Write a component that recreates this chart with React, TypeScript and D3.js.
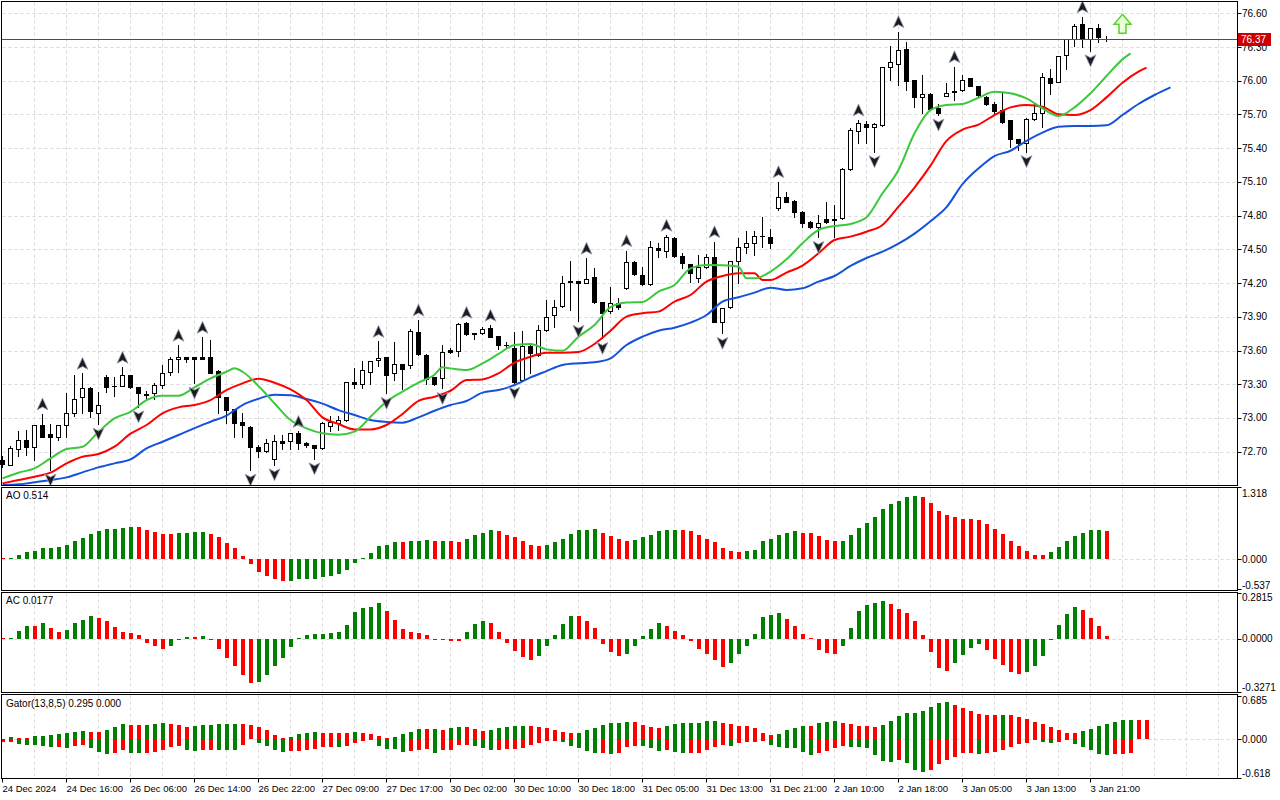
import { useEffect, useRef } from 'react'
import * as d3 from 'd3'

// H1 bars from 24 Dec 2024 08:00 to 3 Jan 23:00
const opens = [
  72.63, 72.584, 72.726, 72.803, 72.744, 72.934, 72.857, 72.833, 72.934, 73.047,
  73.183, 73.27, 73.047, 73.36, 73.283, 73.284, 73.379, 73.272, 73.207, 73.218,
  73.29, 73.408, 73.52, 73.539, 73.539, 73.545, 73.545, 73.42, 73.183, 73.076,
  72.964, 72.922, 72.744, 72.708, 72.637, 72.791, 72.791, 72.869, 72.78, 72.756,
  72.732, 72.93, 72.958, 72.981, 73.317, 73.299, 73.406, 73.512, 73.539, 73.397,
  73.477, 73.468, 73.764, 73.56, 73.361, 73.352, 73.601, 73.593, 73.842, 73.753,
  73.759, 73.797, 73.726, 73.646, 73.625, 73.337, 73.637, 73.557, 73.779, 73.913,
  73.993, 74.205, 74.215, 74.203, 74.251, 74.028, 73.948, 74.02, 74.153, 74.39,
  74.269, 74.189, 74.509, 74.482, 74.604, 74.441, 74.37, 74.248, 74.346, 74.435,
  73.857, 73.99, 74.399, 74.524, 74.554, 74.616, 74.613, 74.865, 74.969, 74.933,
  74.835, 74.746, 74.702, 74.767, 74.773, 74.776, 75.212, 75.556, 75.615, 75.592,
  75.606, 76.125, 76.149, 76.279, 76.006, 75.852, 75.879, 75.754, 75.867, 75.912,
  75.917, 76.021, 75.953, 75.858, 75.79, 75.739, 75.65, 75.478, 75.449, 75.656,
  75.71, 76.021, 75.991, 76.229, 76.368, 76.504, 76.368, 76.466, 76.37,
]
const highs = [
  72.66, 72.75, 72.883, 72.889, 72.94, 73.035, 72.946, 72.94, 73.22, 73.385,
  73.396, 73.275, 73.23, 73.379, 73.361, 73.45, 73.38, 73.275, 73.24, 73.31,
  73.468, 73.539, 73.646, 73.545, 73.545, 73.717, 73.693, 73.425, 73.185, 73.08,
  73.04, 72.925, 72.76, 72.81, 72.851, 72.851, 72.869, 72.88, 72.79, 72.76,
  72.96, 73.02, 73.017, 73.32, 73.441, 73.503, 73.503, 73.681, 73.54, 73.672,
  73.48, 73.788, 73.871, 73.566, 73.362, 73.646, 73.62, 73.842, 73.85, 73.755,
  73.806, 73.824, 73.727, 73.68, 73.762, 73.77, 73.646, 73.824, 74.046, 74.046,
  74.26, 74.4, 74.22, 74.42, 74.331, 74.03, 74.162, 74.064, 74.488, 74.392,
  74.346, 74.577, 74.554, 74.625, 74.613, 74.47, 74.372, 74.453, 74.459, 74.568,
  73.98, 74.4, 74.598, 74.666, 74.666, 74.791, 74.678, 75.102, 75.013, 74.935,
  74.84, 74.755, 74.803, 74.924, 74.895, 75.22, 75.577, 75.651, 75.645, 75.62,
  76.125, 76.309, 76.436, 76.347, 76.01, 76.051, 75.888, 75.793, 75.976, 76.125,
  76.051, 76.025, 75.955, 75.86, 75.813, 75.888, 75.652, 75.48, 75.665, 75.798,
  76.066, 76.101, 76.22, 76.37, 76.504, 76.57, 76.466, 76.504, 76.398,
]
const lows = [
  72.56, 72.578, 72.661, 72.667, 72.625, 72.83, 72.536, 72.8, 72.833, 73.017,
  73.04, 73.01, 72.946, 73.233, 73.195, 73.28, 73.27, 73.1, 73.17, 73.17,
  73.27, 73.385, 73.408, 73.5, 73.31, 73.52, 73.4, 73.04, 72.952, 72.833,
  72.833, 72.536, 72.655, 72.7, 72.584, 72.72, 72.726, 72.726, 72.744, 72.637,
  72.726, 72.88, 72.89, 72.975, 73.269, 73.263, 73.299, 73.465, 73.219, 73.337,
  73.254, 73.441, 73.557, 73.299, 73.29, 73.263, 73.58, 73.548, 73.735, 73.699,
  73.75, 73.717, 73.61, 73.62, 73.31, 73.33, 73.397, 73.548, 73.77, 73.806,
  73.99, 73.96, 73.86, 74.197, 74.02, 73.708, 73.93, 73.97, 74.15, 74.27,
  74.18, 74.18, 74.435, 74.435, 74.43, 74.331, 74.213, 74.213, 74.331, 73.85,
  73.753, 73.98, 74.198, 74.465, 74.45, 74.524, 74.509, 74.85, 74.92, 74.791,
  74.702, 74.687, 74.607, 74.73, 74.613, 74.77, 75.21, 75.449, 75.449, 75.369,
  75.6, 76.006, 75.962, 75.917, 75.769, 75.716, 75.74, 75.695, 75.86, 75.828,
  75.91, 75.95, 75.858, 75.784, 75.71, 75.627, 75.413, 75.383, 75.37, 75.65,
  75.591, 75.882, 75.99, 76.101, 76.309, 76.303, 76.267, 76.347, 76.356,
]
const closes = [
  72.59, 72.732, 72.803, 72.744, 72.934, 72.833, 72.833, 72.934, 73.041, 73.165,
  73.27, 73.058, 73.118, 73.278, 73.28, 73.379, 73.272, 73.218, 73.21, 73.29,
  73.396, 73.52, 73.539, 73.52, 73.527, 73.527, 73.402, 73.19, 73.07, 72.952,
  72.934, 72.744, 72.708, 72.78, 72.791, 72.774, 72.865, 72.78, 72.756, 72.732,
  72.958, 72.96, 72.981, 73.317, 73.299, 73.423, 73.503, 73.533, 73.379, 73.477,
  73.432, 73.77, 73.566, 73.343, 73.299, 73.584, 73.584, 73.833, 73.744, 73.744,
  73.788, 73.723, 73.646, 73.648, 73.317, 73.637, 73.575, 73.779, 73.895, 73.99,
  74.198, 74.215, 74.198, 74.239, 74.028, 73.936, 74.02, 73.984, 74.39, 74.278,
  74.189, 74.518, 74.491, 74.613, 74.441, 74.376, 74.293, 74.346, 74.435, 73.857,
  73.975, 74.399, 74.524, 74.554, 74.619, 74.618, 74.56, 74.969, 74.925, 74.829,
  74.737, 74.702, 74.737, 74.746, 74.761, 75.215, 75.562, 75.621, 75.586, 75.615,
  76.12, 76.163, 76.273, 76.0, 75.852, 75.879, 75.748, 75.71, 75.894, 75.897,
  76.006, 75.953, 75.873, 75.793, 75.733, 75.635, 75.478, 75.449, 75.656, 75.716,
  76.03, 75.982, 76.22, 76.368, 76.487, 76.368, 76.466, 76.386, 76.37,
]

const fractalUp = [5, 10, 15, 22, 25, 37, 47, 52, 58, 61, 73, 78, 83, 89, 97, 107, 112, 119, 135]
const fractalDown = [6, 12, 17, 24, 31, 34, 39, 48, 55, 64, 72, 75, 90, 102, 109, 117, 128, 136]

// Alligator lines as displayed (forward shift included): [bar, price]
const jaw: [number, number][] = [
  [0, 72.403], [2, 72.409], [4, 72.427], [6, 72.447], [8, 72.471], [10, 72.516], [12, 72.56], [14, 72.596],
  [16, 72.631], [18, 72.729], [20, 72.788], [22, 72.848], [24, 72.91], [26, 72.966], [28, 73.02], [30, 73.115],
  [32, 73.171], [34, 73.207], [36, 73.201], [38, 73.168], [40, 73.127], [42, 73.07], [44, 73.026], [46, 72.981],
  [48, 72.964], [50, 72.958], [52, 73.005], [54, 73.064], [56, 73.115], [58, 73.151], [60, 73.225], [62, 73.248],
  [64, 73.293], [66, 73.361], [68, 73.417], [70, 73.471], [72, 73.486], [74, 73.495], [76, 73.53], [78, 73.649],
  [80, 73.723], [82, 73.776], [84, 73.803], [86, 73.848], [88, 73.916], [90, 74.035], [92, 74.073], [94, 74.115],
  [96, 74.159], [98, 74.138], [100, 74.153], [102, 74.213], [104, 74.263], [106, 74.352], [108, 74.423], [110, 74.479],
  [112, 74.55], [114, 74.64], [116, 74.75], [118, 74.875], [120, 75.08], [122, 75.22], [124, 75.33], [126, 75.377],
  [128, 75.466], [130, 75.538], [132, 75.591], [134, 75.597], [136, 75.597], [138, 75.603], [140, 75.695], [142, 75.793],
  [144, 75.873], [146, 75.941],
]
const teeth: [number, number][] = [
  [0, 72.418], [2, 72.447], [4, 72.477], [6, 72.513], [8, 72.596], [10, 72.655], [12, 72.679], [14, 72.744],
  [16, 72.86], [18, 72.937], [20, 73.041], [22, 73.094], [24, 73.115], [26, 73.159], [28, 73.248], [30, 73.308],
  [32, 73.349], [34, 73.313], [36, 73.254], [38, 73.159], [40, 73.005], [42, 72.946], [44, 72.898], [46, 72.898],
  [48, 72.937], [50, 73.035], [52, 73.151], [54, 73.189], [56, 73.242], [58, 73.337], [60, 73.343], [62, 73.397],
  [64, 73.492], [66, 73.545], [68, 73.581], [70, 73.581], [72, 73.587], [74, 73.658], [76, 73.775], [78, 73.901],
  [80, 73.931], [82, 73.946], [84, 74.035], [86, 74.094], [88, 74.213], [90, 74.263], [92, 74.287], [94, 74.287],
  [95, 74.227], [96, 74.227], [98, 74.293], [100, 74.355], [102, 74.465], [104, 74.583], [106, 74.613], [108, 74.657],
  [110, 74.717], [112, 74.88], [114, 75.05], [116, 75.245], [118, 75.465], [120, 75.565], [122, 75.61], [124, 75.695],
  [126, 75.763], [128, 75.784], [130, 75.769], [132, 75.701], [134, 75.695], [136, 75.739], [138, 75.852], [140, 75.982],
  [142, 76.08], [143, 76.116],
]
const lips: [number, number][] = [
  [0, 72.462], [2, 72.513], [4, 72.551], [6, 72.64], [8, 72.723], [10, 72.744], [12, 72.877], [14, 72.996],
  [16, 73.055], [18, 73.159], [20, 73.198], [22, 73.198], [24, 73.272], [26, 73.352], [28, 73.411], [29, 73.441],
  [30, 73.411], [32, 73.284], [34, 73.13], [36, 72.981], [38, 72.907], [40, 72.863], [42, 72.85], [44, 72.878],
  [46, 73.011], [48, 73.145], [50, 73.234], [52, 73.314], [54, 73.385], [55, 73.45], [56, 73.441], [58, 73.426],
  [60, 73.486], [62, 73.569], [64, 73.649], [66, 73.658], [68, 73.61], [70, 73.598], [72, 73.723], [74, 73.827],
  [76, 73.985], [78, 74.026], [80, 74.032], [82, 74.124], [84, 74.183], [86, 74.331], [88, 74.361], [90, 74.358],
  [92, 74.346], [93, 74.242], [94, 74.242], [96, 74.302], [98, 74.411], [100, 74.554], [102, 74.672], [104, 74.708],
  [106, 74.726], [108, 74.785], [110, 74.999], [112, 75.205], [114, 75.532], [116, 75.739], [118, 75.784], [120, 75.793],
  [122, 75.849], [124, 75.902], [126, 75.888], [128, 75.843], [130, 75.754], [132, 75.686], [134, 75.763], [136, 75.888],
  [138, 76.042], [140, 76.19], [141, 76.243],
]

const aoValues = [
  0.012, 0.025, 0.08, 0.14, 0.15, 0.21, 0.212, 0.225, 0.26, 0.33,
  0.39, 0.46, 0.52, 0.55, 0.552, 0.57, 0.59, 0.585, 0.53, 0.5,
  0.47, 0.468, 0.48, 0.49, 0.492, 0.494, 0.47, 0.41, 0.3, 0.21,
  0.06, -0.09, -0.22, -0.3, -0.35, -0.39, -0.388, -0.36, -0.358, -0.35,
  -0.32, -0.3, -0.27, -0.19, -0.07, 0.02, 0.11, 0.24, 0.27, 0.31,
  0.309, 0.33, 0.345, 0.347, 0.33, 0.345, 0.33, 0.31, 0.38, 0.45,
  0.49, 0.53, 0.51, 0.45, 0.4, 0.345, 0.27, 0.24, 0.255, 0.31,
  0.38, 0.47, 0.53, 0.545, 0.56, 0.49, 0.42, 0.38, 0.345, 0.347,
  0.4, 0.44, 0.51, 0.53, 0.532, 0.53, 0.51, 0.44, 0.38, 0.31,
  0.2, 0.145, 0.144, 0.146, 0.18, 0.33, 0.38, 0.45, 0.49, 0.51,
  0.49, 0.489, 0.42, 0.36, 0.33, 0.345, 0.44, 0.58, 0.67, 0.78,
  0.91, 1.0, 1.07, 1.13, 1.16, 1.13, 1.02, 0.89, 0.8, 0.78,
  0.745, 0.727, 0.725, 0.65, 0.56, 0.47, 0.345, 0.24, 0.145, 0.09,
  0.073, 0.127, 0.22, 0.33, 0.42, 0.49, 0.53, 0.532, 0.514,
]
const acValues = [
  0.001, 0.004, 0.045, 0.076, 0.075, 0.094, 0.063, 0.039, 0.051, 0.094,
  0.112, 0.137, 0.125, 0.106, 0.069, 0.039, 0.033, 0.02, -0.027, -0.045,
  -0.063, -0.045, -0.01, 0.012, 0.008, 0.014, -0.008, -0.063, -0.118, -0.167,
  -0.223, -0.272, -0.266, -0.223, -0.167, -0.118, -0.051, 0.002, 0.025, 0.027,
  0.03, 0.032, 0.043, 0.086, 0.165, 0.19, 0.196, 0.22, 0.172, 0.117,
  0.061, 0.043, 0.037, 0.025, -0.005, -0.004, -0.012, -0.013, 0.043, 0.092,
  0.11, 0.098, 0.043, -0.025, -0.074, -0.11, -0.129, -0.104, -0.043, 0.025,
  0.092, 0.141, 0.14, 0.11, 0.068, -0.031, -0.08, -0.104, -0.092, -0.043,
  0.018, 0.061, 0.098, 0.08, 0.049, 0.025, -0.012, -0.061, -0.092, -0.129,
  -0.172, -0.147, -0.092, -0.043, 0.031, 0.135, 0.147, 0.16, 0.123, 0.08,
  0.031, 0.006, -0.067, -0.086, -0.092, -0.043, 0.067, 0.172, 0.208, 0.22,
  0.233, 0.214, 0.184, 0.159, 0.11, 0.025, -0.084, -0.178, -0.196, -0.147,
  -0.098, -0.055, -0.031, -0.067, -0.123, -0.159, -0.202, -0.214, -0.202, -0.165,
  -0.104, -0.004, 0.086, 0.153, 0.196, 0.178, 0.129, 0.08, 0.0177,
]
// Gator runs 5 bars past the last candle (teeth shift)
const gatorUpper = [
  0, 0.026, 0.025, 0.024, 0.042, 0.047, 0.063, 0.074, 0.089, 0.105,
  0.121, 0.12, 0.119, 0.142, 0.184, 0.231, 0.221, 0.216, 0.22, 0.232,
  0.247, 0.245, 0.226, 0.195, 0.2, 0.216, 0.226, 0.232, 0.233, 0.234,
  0.232, 0.23, 0.184, 0.137, 0.058, 0.01, 0.026, 0.074, 0.089, 0.105,
  0.104, 0.103, 0.095, 0.094, 0.11, 0.095, 0.079, 0.047, 0.016, 0.032,
  0.079, 0.11, 0.158, 0.157, 0.159, 0.142, 0.174, 0.189, 0.188, 0.158,
  0.126, 0.142, 0.174, 0.189, 0.205, 0.206, 0.205, 0.189, 0.174, 0.142,
  0.11, 0.095, 0.096, 0.142, 0.174, 0.221, 0.252, 0.253, 0.268, 0.267,
  0.221, 0.189, 0.174, 0.205, 0.237, 0.253, 0.254, 0.255, 0.284, 0.285,
  0.253, 0.237, 0.205, 0.204, 0.174, 0.095, 0.063, 0.079, 0.142, 0.174,
  0.205, 0.204, 0.253, 0.268, 0.284, 0.253, 0.237, 0.205, 0.204, 0.189,
  0.221, 0.284, 0.363, 0.41, 0.411, 0.442, 0.505, 0.568, 0.584, 0.536,
  0.489, 0.442, 0.394, 0.379, 0.378, 0.379, 0.378, 0.347, 0.315, 0.268,
  0.237, 0.189, 0.142, 0.095, 0.094, 0.126, 0.158, 0.205, 0.237, 0.274,
  0.305, 0.306, 0.3, 0.295,
]
// absolute values, drawn below zero
const gatorLower = [
  0.05, 0.047, 0.074, 0.089, 0.1, 0.116, 0.131, 0.13, 0.147, 0.11,
  0.1, 0.142, 0.205, 0.237, 0.221, 0.179, 0.221, 0.222, 0.216, 0.205,
  0.168, 0.126, 0.11, 0.179, 0.18, 0.179, 0.168, 0.169, 0.17, 0.179,
  0.1, 0, 0.063, 0.11, 0.179, 0.205, 0.19, 0.189, 0.174, 0.158,
  0.126, 0.12, 0.122, 0.105, 0.058, 0.026, 0.011, 0.105, 0.153, 0.154,
  0.2, 0.185, 0.168, 0.153, 0.216, 0.168, 0.167, 0.089, 0.088, 0.105,
  0.137, 0.168, 0.167, 0.153, 0.152, 0.137, 0.089, 0.058, 0.026, 0.025,
  0.042, 0.105, 0.137, 0.184, 0.216, 0.215, 0.231, 0.215, 0.121, 0.105,
  0.106, 0.137, 0.184, 0.168, 0.2, 0.216, 0.215, 0.214, 0.168, 0.121,
  0.089, 0.105, 0.058, 0.042, 0.041, 0.026, 0.089, 0.121, 0.137, 0.139,
  0.2, 0.247, 0.215, 0.184, 0.137, 0.105, 0.121, 0.122, 0.137, 0.247,
  0.342, 0.358, 0.326, 0.373, 0.484, 0.515, 0.484, 0.389, 0.326, 0.279,
  0.216, 0.215, 0.231, 0.214, 0.2, 0.168, 0.121, 0.074, 0.058, 0.011,
  0.042, 0.058, 0.042, 0.011, 0.074, 0.121, 0.168, 0.231, 0.247, 0.237,
  0.236, 0.221, 0, 0,
]

const priceTicks = [76.6, 76.3, 76.0, 75.7, 75.4, 75.1, 74.8, 74.5, 74.2, 73.9, 73.6, 73.3, 73.0, 72.7]
const aoTicks = [1.318, 0, -0.537]
const acTicks = [0.2815, 0, -0.3271]
const gatorTicks = [0.685, 0, -0.618]
const timeLabels = [
  '24 Dec 2024', '24 Dec 16:00', '26 Dec 06:00', '26 Dec 14:00', '26 Dec 22:00', '27 Dec 09:00',
  '27 Dec 17:00', '30 Dec 02:00', '30 Dec 10:00', '30 Dec 18:00', '31 Dec 05:00', '31 Dec 13:00',
  '31 Dec 21:00', '2 Jan 10:00', '2 Jan 18:00', '3 Jan 05:00', '3 Jan 13:00', '3 Jan 21:00',
]
const signalBar = 140
const signalPrice = 76.6

const GREEN = '#008000'
const RED = '#ff0000'
const FONT = '"Liberation Sans", Arial, sans-serif'

export default function App() {
  const svgRef = useRef<SVGSVGElement>(null)

  useEffect(() => {
    if (!svgRef.current) return
    const svg = d3.select(svgRef.current)
    svg.selectAll('*').remove()

    const left = 1.5
    const right = 1237.5
    const mainTop = 1.5, mainBot = 485.5
    const aoTop = 487.5, aoBot = 590.5
    const acTop = 592.5, acBot = 692.5
    const gTop = 694.5, gBot = 778.5

    const x = d3.scaleLinear().domain([0, 1]).range([2.5, 10.5])
    const y = d3.scaleLinear().domain([72.4034, 76.7005]).range([485, 2])
    const yAO = d3.scaleLinear().domain([-0.537, 1.318]).range([589, 487])
    const yAC = d3.scaleLinear().domain([-0.3271, 0.2815]).range([692, 592.7])
    const yG = d3.scaleLinear().domain([-0.618, 0.685]).range([778.3, 695.7])
    const crisp = (v: number) => Math.round(v) + 0.5

    svg.append('rect').attr('width', 1280).attr('height', 800).attr('fill', '#fff')

    // grid
    const grid = svg.append('g').attr('stroke', '#d9d9d9').attr('stroke-dasharray', '3,3').attr('stroke-width', 1)
    const vBars = d3.range(4, 160, 4).filter(b => x(b) < 1236)
    for (const [t, b] of [[mainTop, mainBot], [aoTop, aoBot], [acTop, acBot], [gTop, gBot]]) {
      grid.append('g').selectAll('line').data(vBars).join('line')
        .attr('x1', b2 => x(b2)).attr('x2', b2 => x(b2)).attr('y1', t + 1).attr('y2', b - 1)
    }
    grid.append('g').selectAll('line').data(priceTicks).join('line')
      .attr('x1', left + 1).attr('x2', right - 1)
      .attr('y1', p => crisp(y(p))).attr('y2', p => crisp(y(p)))
    for (const s of [yAO, yAC, yG]) {
      grid.append('line').attr('x1', left + 1).attr('x2', right - 1)
        .attr('y1', crisp(s(0))).attr('y2', crisp(s(0)))
    }

    // candles
    const n = opens.length
    const cg = svg.append('g')
    cg.selectAll('line').data(d3.range(n)).join('line')
      .attr('x1', i => x(i)).attr('x2', i => x(i))
      .attr('y1', i => Math.round(y(highs[i]))).attr('y2', i => Math.round(y(lows[i])) + 1)
      .attr('stroke', '#000')
    for (let i = 0; i < n; i++) {
      const top = Math.round(y(Math.max(opens[i], closes[i])))
      const bot = Math.round(y(Math.min(opens[i], closes[i])))
      if (bot - top < 1) {
        cg.append('line').attr('x1', x(i) - 2.5).attr('x2', x(i) + 2.5)
          .attr('y1', top + 0.5).attr('y2', top + 0.5).attr('stroke', '#000')
      } else {
        cg.append('rect').attr('x', x(i) - 2).attr('width', 4)
          .attr('y', top + 0.5).attr('height', bot - top)
          .attr('fill', closes[i] >= opens[i] ? '#fff' : '#000').attr('stroke', '#000')
      }
    }

    // alligator
    svg.append('clipPath').attr('id', 'mainClip').append('rect')
      .attr('x', left + 0.5).attr('y', mainTop + 0.5).attr('width', right - left - 1).attr('height', mainBot - mainTop - 1)
    const line = d3.line<[number, number]>().x(d => x(d[0])).y(d => y(d[1])).curve(d3.curveMonotoneX)
    const lg = svg.append('g').attr('clip-path', 'url(#mainClip)').attr('fill', 'none').attr('stroke-width', 2)
    lg.append('path').attr('d', line(jaw)).attr('stroke', '#1452dc')
    lg.append('path').attr('d', line(teeth)).attr('stroke', '#ff0000')
    lg.append('path').attr('d', line(lips)).attr('stroke', '#3cc83c')

    // fractals
    const fg = svg.append('g').attr('stroke', '#9aa6c4').attr('stroke-width', 0.8).attr('fill', '#1c1c1c')
    fg.selectAll('path.up').data(fractalUp).join('path').attr('class', 'up')
      .attr('d', 'M0,-6 L5.5,6 L0,3 L-5.5,6 Z')
      .attr('transform', i => `translate(${x(i)},${y(highs[i]) - 10})`)
    fg.selectAll('path.dn').data(fractalDown).join('path').attr('class', 'dn')
      .attr('d', 'M0,6 L5.5,-6 L0,-3 L-5.5,-6 Z')
      .attr('transform', i => `translate(${x(i)},${y(lows[i]) + 10})`)

    // signal arrow
    const sx = x(signalBar), sy = y(signalPrice) + 1
    svg.append('path')
      .attr('d', `M${sx},${sy} L${sx + 8.5},${sy + 10} L${sx + 3.5},${sy + 10} L${sx + 3.5},${sy + 19} L${sx - 3.5},${sy + 19} L${sx - 3.5},${sy + 10} L${sx - 8.5},${sy + 10} Z`)
      .attr('fill', '#eaffdc').attr('stroke', '#5ad228').attr('stroke-width', 1.5)

    // current price line
    const last = closes[n - 1]
    const ly = crisp(y(last))
    svg.append('line').attr('x1', left).attr('x2', right).attr('y1', ly).attr('y2', ly)
      .attr('stroke', '#a52a2a').attr('stroke-width', 1)

    // histograms
    const hist = (vals: number[], s: d3.ScaleLinear<number, number>, color: (i: number) => string) => {
      const z = Math.round(s(0))
      const g = svg.append('g')
      vals.forEach((v, i) => {
        if (v === 0) return
        const t = Math.round(s(v))
        const h = Math.max(1, Math.abs(t - z))
        g.append('rect').attr('x', Math.round(x(i) - 2)).attr('width', 4)
          .attr('y', v > 0 ? z - h : z).attr('height', h).attr('fill', color(i))
      })
    }
    hist(aoValues, yAO, i => (i > 0 && aoValues[i] > aoValues[i - 1] ? GREEN : RED))
    hist(acValues, yAC, i => (i > 0 && acValues[i] > acValues[i - 1] ? GREEN : RED))
    hist(gatorUpper, yG, i => (i > 0 && gatorUpper[i] > gatorUpper[i - 1] ? GREEN : RED))
    hist(gatorLower.map(v => -v), yG, i => (i > 0 && gatorLower[i] > gatorLower[i - 1] ? GREEN : RED))

    // frames
    const fr = svg.append('g').attr('fill', 'none').attr('stroke', '#000')
    for (const [t, b] of [[mainTop, mainBot], [aoTop, aoBot], [acTop, acBot], [gTop, gBot]]) {
      fr.append('rect').attr('x', left).attr('y', t).attr('width', right - left).attr('height', b - t)
    }

    // panel titles
    const tg = svg.append('g').attr('font-family', FONT).attr('font-size', 10).attr('fill', '#000')
    tg.append('text').attr('x', 6).attr('y', 499).text(`AO ${aoValues[aoValues.length - 1].toFixed(3)}`)
    tg.append('text').attr('x', 6).attr('y', 604).text(`AC ${acValues[acValues.length - 1].toFixed(4)}`)
    tg.append('text').attr('x', 6).attr('y', 707)
      .text(`Gator(13,8,5) ${gatorUpper[gatorUpper.length - 1].toFixed(3)} ${gatorLower[gatorLower.length - 1].toFixed(3)}`)

    // right axis
    const ax = svg.append('g').attr('font-family', FONT).attr('font-size', 10).attr('fill', '#000')
    const tick = (ty: number, label: string, baseline: number) => {
      ax.append('line').attr('x1', right).attr('x2', right + 4).attr('y1', crisp(ty)).attr('y2', crisp(ty)).attr('stroke', '#000')
      ax.append('text').attr('x', 1242).attr('y', baseline).text(label)
    }
    priceTicks.forEach(p => tick(y(p), p.toFixed(2), y(p) + 3.5))
    aoTicks.forEach((v, k) => tick(yAO(v), v.toFixed(3), k === 0 ? yAO(v) + 10 : k === 2 ? yAO(v) - 0.5 : yAO(v) + 3.5))
    acTicks.forEach((v, k) => tick(yAC(v), v.toFixed(4), k === 0 ? yAC(v) + 8 : k === 2 ? yAC(v) - 1.5 : yAC(v) + 3.5))
    gatorTicks.forEach((v, k) => tick(yG(v), v.toFixed(3), k === 0 ? yG(v) + 8 : k === 2 ? yG(v) - 1 : yG(v) + 3.5))

    // current price tag (covers the 76.30 label as in the terminal)
    ax.append('rect').attr('x', 1238).attr('y', ly - 6.5).attr('width', 33).attr('height', 13).attr('fill', '#cc0000')
    ax.append('text').attr('x', 1241).attr('y', ly + 3.5).attr('fill', '#fff').text(last.toFixed(2))

    // time axis
    const xa = svg.append('g').attr('font-family', FONT).attr('font-size', 9.5).attr('fill', '#000')
    timeLabels.forEach((lbl, k) => {
      const bx = x(k * 8)
      xa.append('line').attr('x1', bx).attr('x2', bx).attr('y1', gBot).attr('y2', gBot + 4).attr('stroke', '#000')
      xa.append('text').attr('x', bx).attr('y', 792).text(lbl)
    })
  }, [])

  return (
    <svg
      ref={svgRef}
      width={1280}
      height={800}
      style={{ position: 'absolute', left: 0, top: 0, display: 'block' }}
    />
  )
}
